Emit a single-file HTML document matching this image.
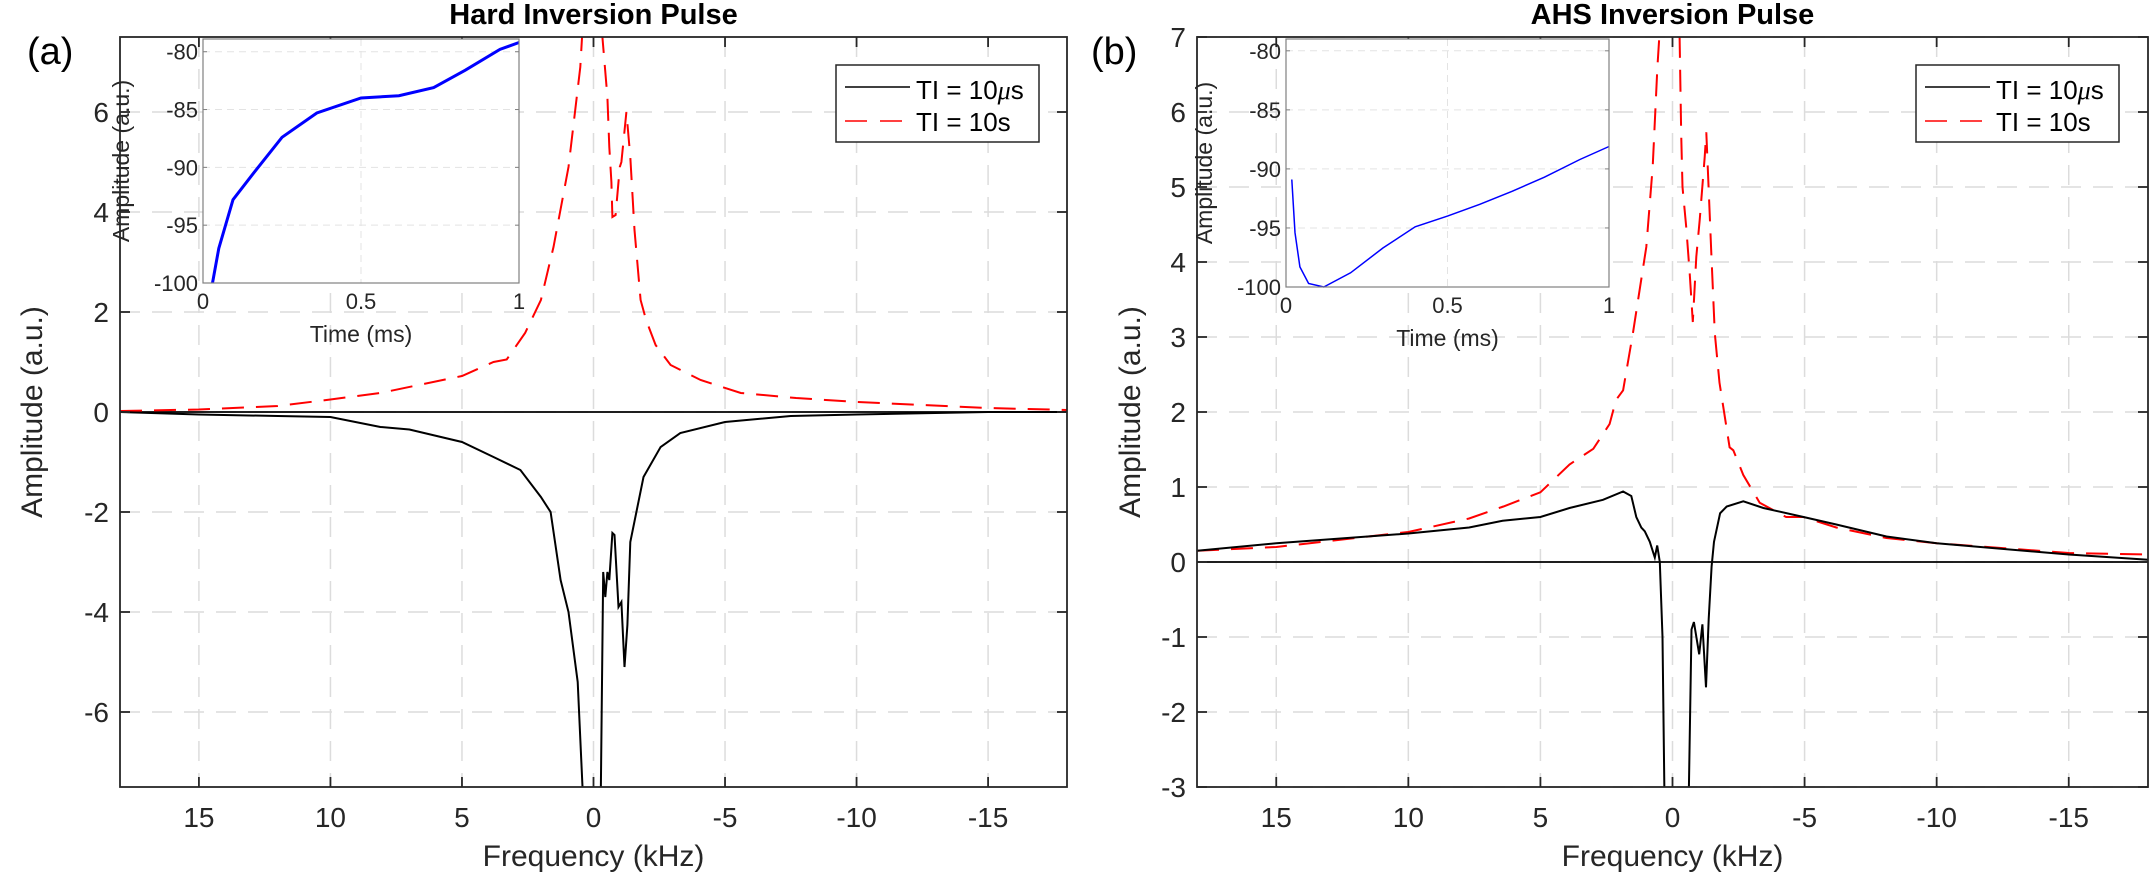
<!DOCTYPE html>
<html><head><meta charset="utf-8">
<style>
html,body{margin:0;padding:0;background:#fff;}
svg{display:block;font-family:"Liberation Sans",Arial,sans-serif;}
</style></head>
<body>
<svg id="fig" width="2150" height="878" viewBox="0 0 2150 878" xmlns="http://www.w3.org/2000/svg"></svg>
<script>
// ---- Panel (a) data: Hard Inversion Pulse ----
const hardBlackX = [18,15,12,10,8.1,7,5,3.8,2.78,2.0,1.63,1.25,0.95,0.6,0.42,0.3,-0.27,-0.37,-0.45,-0.53,-0.6,-0.72,-0.8,-0.95,-1.06,-1.18,-1.29,-1.4,-1.63,-1.9,-2.55,-3.3,-5,-7.5,-10,-15,-18];
const hardBlackY = [0,-0.05,-0.08,-0.1,-0.3,-0.35,-0.6,-0.9,-1.16,-1.7,-2.0,-3.36,-4.0,-5.4,-7.5,-8,-8,-3.2,-3.7,-3.2,-3.36,-2.42,-2.46,-3.9,-3.8,-5.1,-4.26,-2.6,-2.0,-1.3,-0.7,-0.42,-0.2,-0.08,-0.05,0,0];
const hardRedX = [18,15,12,10,8.1,5,3.8,3.3,2.6,2.0,1.52,0.95,0.5,0.38,0.1,-0.34,-0.53,-0.6,-0.68,-0.72,-0.84,-1.0,-1.06,-1.25,-1.4,-1.56,-1.79,-2.0,-2.36,-2.93,-4.07,-5.6,-7.7,-10,-15,-18];
const hardRedY = [0.02,0.05,0.12,0.25,0.38,0.72,1.0,1.05,1.58,2.24,3.3,4.9,6.9,8,8,7.5,6.3,5.3,4.6,3.9,3.94,4.9,5.0,6.0,5.1,3.64,2.24,1.84,1.34,0.94,0.64,0.38,0.28,0.2,0.08,0.04];
const hardInsetT = [0.03,0.05,0.095,0.16,0.25,0.36,0.5,0.62,0.73,0.83,0.94,1.0];
const hardInsetY = [-100,-97,-92.8,-90.5,-87.4,-85.3,-84,-83.8,-83.1,-81.6,-79.8,-79.2];
const hardYTicks = [-6,-4,-2,0,2,4,6];

// ---- Panel (b) data: AHS Inversion Pulse ----
const ahsBlackX = [18,15,10,7.7,6.43,5.0,3.9,2.63,1.87,1.56,1.37,1.18,1.05,0.86,0.67,0.58,0.48,0.38,0.29,-0.6,-0.72,-0.81,-1.01,-1.13,-1.27,-1.37,-1.48,-1.57,-1.8,-2.05,-2.68,-3.44,-4.96,-6.2,-8.1,-10,-15,-18];
const ahsBlackY = [0.15,0.25,0.38,0.46,0.55,0.6,0.72,0.83,0.94,0.88,0.6,0.46,0.41,0.27,0.06,0.22,0,-1.0,-3.5,-3.5,-0.9,-0.8,-1.23,-0.83,-1.67,-0.76,-0.06,0.27,0.65,0.74,0.81,0.72,0.6,0.5,0.34,0.25,0.1,0.03];
const ahsRedX = [18,15,10,7.7,6.4,5,3.9,3.0,2.38,2.14,1.87,1.5,0.99,0.75,0.57,0.5,0.2,-0.27,-0.33,-0.38,-0.52,-0.65,-0.77,-0.9,-1.03,-1.22,-1.28,-1.37,-1.47,-1.6,-1.78,-2.16,-2.3,-2.68,-3.3,-4.3,-4.96,-6.2,-8.1,-10,-15,-18];
const ahsRedY = [0.15,0.2,0.4,0.58,0.74,0.93,1.3,1.51,1.84,2.16,2.29,3.05,4.2,5.27,6.6,7,7.5,7,5.7,5.0,4.47,3.85,3.2,4.07,4.56,5.4,5.73,4.96,4.12,3.05,2.39,1.53,1.49,1.16,0.79,0.6,0.6,0.46,0.32,0.25,0.12,0.1];
const ahsInsetT = [0.018,0.028,0.043,0.07,0.117,0.2,0.3,0.4,0.5,0.6,0.7,0.8,0.91,1.0];
const ahsInsetY = [-90.9,-95.4,-98.3,-99.7,-100,-98.8,-96.7,-94.9,-94.0,-93,-91.9,-90.7,-89.2,-88.1];
const ahsYTicks = [-3,-2,-1,0,1,2,3,4,5,6,7];

const freqTicks = [15,10,5,0,-5,-10,-15];
const insetYTicks = [-100,-95,-90,-85,-80];
const insetXTicks = [0,0.5,1];
const insetXTickLabels = ['0','0.5','1'];

const NS='http://www.w3.org/2000/svg';
const svg=document.getElementById('fig');
function mk(tag,attrs,parent){const e=document.createElementNS(NS,tag);for(const k in attrs)e.setAttribute(k,attrs[k]);(parent||svg).appendChild(e);return e;}
function txt(s,attrs,parent){const e=mk('text',attrs,parent);e.textContent=s;return e;}

function panel(cfg){
  const g=mk('g',{});
  
  
  const L=cfg.left,R=cfg.right,T=37,B=787;
  const sx=v=>L+(18-v)/36*(R-L);
  const sy=v=>B-(v-cfg.ymin)/(cfg.ymax-cfg.ymin)*(B-T);
  const cid='clip'+cfg.id;
  const cp=mk('clipPath',{id:cid},g);mk('rect',{x:L,y:T,width:R-L,height:B-T},cp);
  const grid=mk('g',{},g);
  
  
  freqTicks.forEach(v=>mk('line',{x1:sx(v),x2:sx(v),y1:T,y2:B,stroke:'#dcdcdc','stroke-width':1.5,'stroke-dasharray':'20,12'},grid));
  cfg.yticks.forEach(v=>mk('line',{x1:L,x2:R,y1:sy(v),y2:sy(v),stroke:'#dcdcdc','stroke-width':1.5,'stroke-dasharray':'20,12'},grid));
  const z=mk('line',{x1:L,x2:R,y1:sy(0),y2:sy(0),stroke:'#000','stroke-width':1.8},g);
  
  
  const pts=(xs,ys)=>xs.map((x,i)=>sx(x).toFixed(1)+','+sy(ys[i]).toFixed(1)).join(' ');
  const red=mk('polyline',{points:pts(cfg.redX,cfg.redY),fill:'none',stroke:'#ff0000','stroke-width':2,'stroke-dasharray':'22,12','clip-path':'url(#'+cid+')'},g);
  
  
  const blk=mk('polyline',{points:pts(cfg.blackX,cfg.blackY),fill:'none',stroke:'#000','stroke-width':2,'clip-path':'url(#'+cid+')'},g);
  
  
  mk('rect',{x:L,y:T,width:R-L,height:B-T,fill:'none',stroke:'#262626','stroke-width':1.8},g);
  freqTicks.forEach(v=>{
    mk('line',{x1:sx(v),x2:sx(v),y1:B,y2:B-10,stroke:'#262626','stroke-width':1.8},g);
    mk('line',{x1:sx(v),x2:sx(v),y1:T,y2:T+10,stroke:'#262626','stroke-width':1.8},g);
    const t=txt(String(v),{x:sx(v),y:827,'font-size':28,'text-anchor':'middle',fill:'#262626'},g);
    
    
  });
  cfg.yticks.forEach(v=>{
    mk('line',{x1:L,x2:L+10,y1:sy(v),y2:sy(v),stroke:'#262626','stroke-width':1.8},g);
    mk('line',{x1:R,x2:R-10,y1:sy(v),y2:sy(v),stroke:'#262626','stroke-width':1.8},g);
    const t=txt(String(v),{x:L-11,y:sy(v)+10,'font-size':28,'text-anchor':'end',fill:'#262626'},g);
    
    
  });
  const xl=txt('Frequency (kHz)',{x:(L+R)/2,y:866,'font-size':30,'text-anchor':'middle',fill:'#262626'},g);
  
  
  const yl=txt('Amplitude (a.u.)',{x:0,y:0,'font-size':30,'text-anchor':'middle',fill:'#262626',transform:'translate('+(cfg.ylabX)+',412) rotate(-90)'},g);
  
  
  const tt=txt(cfg.title,{x:(L+R)/2,y:24,'font-size':29,'font-weight':'bold','text-anchor':'middle',fill:'#000'},g);
  
  
  const pl=txt(cfg.panel,{x:cfg.panelX,y:64,'font-size':38,fill:'#000'},g);
  
  
  const lg=mk('g',{},g);
  
  
  const lx=cfg.legX;
  mk('rect',{x:lx,y:65,width:203,height:77,fill:'#fff',stroke:'#262626','stroke-width':1.5},lg);
  mk('line',{x1:lx+9,x2:lx+74,y1:87,y2:87,stroke:'#000','stroke-width':1.5},lg);
  mk('line',{x1:lx+9,x2:lx+66,y1:121,y2:121,stroke:'#ff0000','stroke-width':1.5,'stroke-dasharray':'22,13'},lg);
  const e1=txt('',{x:lx+80,y:99,'font-size':26,fill:'#000'},lg);
  e1.innerHTML='TI = 10<tspan font-family="Liberation Serif" font-style="italic">μ</tspan>s';
  
  
  const e2=txt('TI = 10s',{x:lx+80,y:131,'font-size':26,fill:'#000'},lg);
  
  
  const ig=mk('g',{},g);
  
  
  const iL=cfg.inL,iR=cfg.inR,iT=39,iB=cfg.inB;
  const ix=v=>iL+v*(iR-iL);
  const iy=v=>iB-(v+100)/(cfg.inTop+100)*(iB-iT);
  mk('rect',{x:iL,y:iT,width:iR-iL,height:iB-iT,fill:'#fff'},ig);
  insetXTicks.forEach(v=>mk('line',{x1:ix(v),x2:ix(v),y1:iT,y2:iB,stroke:'#e3e3e3','stroke-width':1,'stroke-dasharray':'7,5'},ig));
  insetYTicks.forEach(v=>mk('line',{x1:iL,x2:iR,y1:iy(v),y2:iy(v),stroke:'#e3e3e3','stroke-width':1,'stroke-dasharray':'7,5'},ig));
  const ipts=cfg.inT.map((t,i)=>ix(t).toFixed(1)+','+iy(cfg.inY[i]).toFixed(1)).join(' ');
  const bl=mk('polyline',{points:ipts,fill:'none',stroke:'#0000ff','stroke-width':cfg.inW},ig);
  
  
  mk('rect',{x:iL,y:iT,width:iR-iL,height:iB-iT,fill:'none',stroke:'#808080','stroke-width':1.2},ig);
  insetYTicks.forEach(v=>{
    mk('line',{x1:iL,x2:iL+4,y1:iy(v),y2:iy(v),stroke:'#808080'},ig);
    mk('line',{x1:iR,x2:iR-4,y1:iy(v),y2:iy(v),stroke:'#808080'},ig);
    const t=txt(String(v),{x:iL-5,y:iy(v)+8,'font-size':22,'text-anchor':'end',fill:'#262626'},ig);
    
    
  });
  insetXTicks.forEach((v,i)=>{
    const t=txt(insetXTickLabels[i],{x:ix(v),y:iB+26,'font-size':22,'text-anchor':'middle',fill:'#262626'},ig);
    
    
  });
  const ixl=txt('Time (ms)',{x:(iL+iR)/2,y:iB+59,'font-size':23,'text-anchor':'middle',fill:'#262626'},ig);
  
  
  const iyl=txt('Amplitude (a.u.)',{x:0,y:0,'font-size':23,'text-anchor':'middle',fill:'#262626',transform:'translate('+(iL-74)+','+((iT+iB)/2)+') rotate(-90)'},ig);
  
  
}

panel({id:'a',name:'panel-a-hard-inversion',title:'Hard Inversion Pulse',panel:'(a)',panelX:27,left:120,right:1067,ymin:-7.5,ymax:7.5,yticks:hardYTicks,
  blackX:hardBlackX,blackY:hardBlackY,redX:hardRedX,redY:hardRedY,ylabX:42,legX:836,
  inL:203,inR:519,inB:283,inTop:-78.9,inT:hardInsetT,inY:hardInsetY,inW:3});
panel({id:'b',name:'panel-b-ahs-inversion',title:'AHS Inversion Pulse',panel:'(b)',panelX:1091,left:1197,right:2148,ymin:-3,ymax:7,yticks:ahsYTicks,
  blackX:ahsBlackX,blackY:ahsBlackY,redX:ahsRedX,redY:ahsRedY,ylabX:1140,legX:1916,
  inL:1286,inR:1609,inB:287,inTop:-79,inT:ahsInsetT,inY:ahsInsetY,inW:1.5});
</script>
</body></html>
